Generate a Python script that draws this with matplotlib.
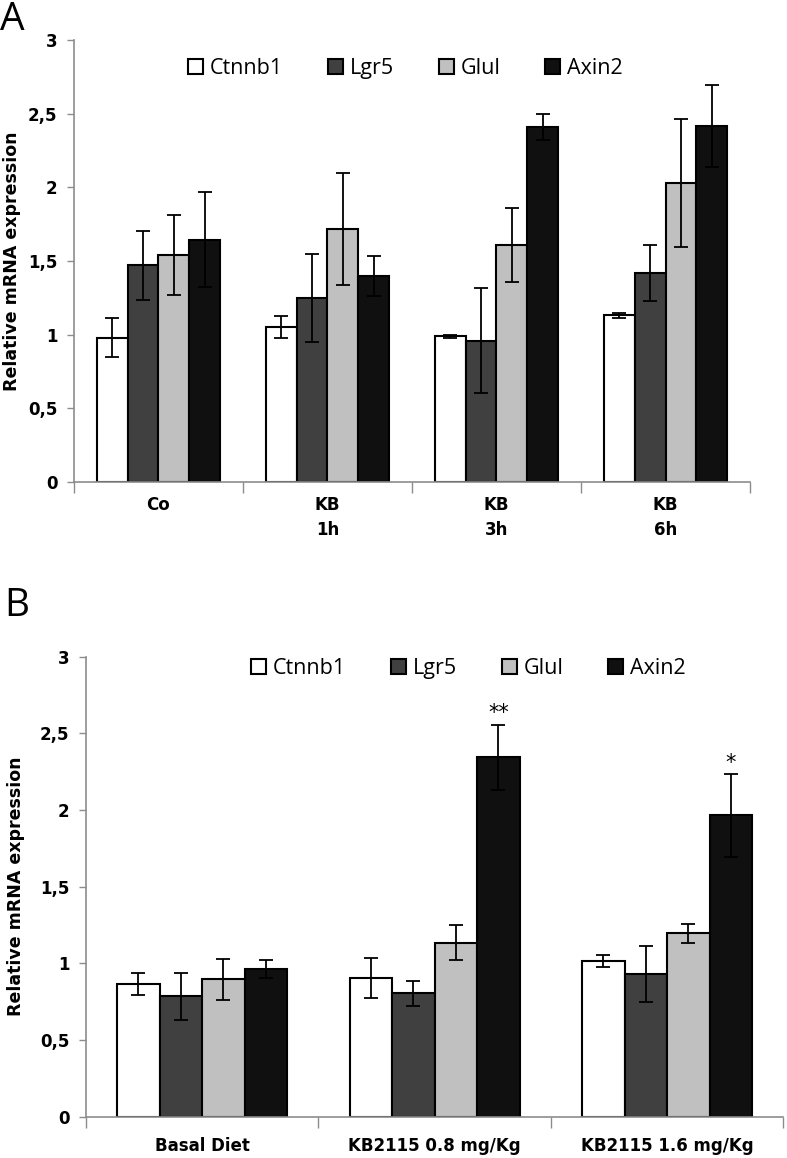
import matplotlib
matplotlib.use("Agg")
import matplotlib.pyplot as plt
import numpy as np
from matplotlib.patches import Patch

# panel A
groups_a = ["Co", "KB\n1h", "KB\n3h", "KB\n6h"]
ctnnb1_a = [0.98, 1.05, 0.99, 1.13]
ctnnb1_a_err = [0.13, 0.075, 0.01, 0.02]
lgr5_a = [1.47, 1.25, 0.96, 1.42]
lgr5_a_err = [0.235, 0.30, 0.355, 0.19]
glul_a = [1.54, 1.72, 1.61, 2.03]
glul_a_err = [0.27, 0.38, 0.25, 0.435]
axin2_a = [1.645, 1.40, 2.41, 2.415]
axin2_a_err = [0.32, 0.135, 0.09, 0.28]

# panel B
groups_b = ["Basal Diet", "KB2115 0.8 mg/Kg", "KB2115 1.6 mg/Kg"]
ctnnb1_b = [0.865, 0.905, 1.015]
ctnnb1_b_err = [0.07, 0.13, 0.04]
lgr5_b = [0.785, 0.805, 0.93]
lgr5_b_err = [0.155, 0.08, 0.185]
glul_b = [0.895, 1.135, 1.196]
glul_b_err = [0.135, 0.112, 0.063]
axin2_b = [0.965, 2.345, 1.965]
axin2_b_err = [0.06, 0.212, 0.27]
stars_b = ["", "**", "*"]

genes = ["Ctnnb1", "Lgr5", "Glul", "Axin2"]
colors = ["white", "#404040", "#c0c0c0", "#101010"]
yticks = [0, 0.5, 1, 1.5, 2, 2.5, 3]
ytick_labels = ["0", "0,5", "1", "1,5", "2", "2,5", "3"]

SPINE = "#8c8c8c"


def draw_panel(ax, groups, series, errs, xlabel_pad):
    n = len(groups)
    x = np.arange(n)
    w = 0.183
    for i, (vals, err) in enumerate(zip(series, errs)):
        xs = x + (i - 1.5) * w
        ax.bar(xs, vals, width=w, color=colors[i], edgecolor="black",
               linewidth=1.5, zorder=2)
        ax.errorbar(xs, vals, yerr=err, fmt="none", ecolor="black",
                    elinewidth=1.3, capsize=5, capthick=1.3, zorder=3)
    ax.set_xlim(-0.5, n - 0.5)
    ax.set_ylim(0, 3)
    ax.set_yticks(yticks)
    ax.set_yticklabels(ytick_labels, fontsize=12, fontweight="bold")
    ax.set_xticks(x)
    ax.set_xticklabels(groups, fontsize=12, fontweight="bold", linespacing=1.5)
    ax.set_xticks(np.arange(n + 1) - 0.5, minor=True)
    ax.tick_params(axis="x", which="major", length=0, pad=xlabel_pad)
    ax.tick_params(axis="x", which="minor", length=8, color=SPINE, width=1)
    ax.tick_params(axis="y", length=5, color=SPINE, width=1, pad=7)
    for s in ["top", "right"]:
        ax.spines[s].set_visible(False)
    for s in ["left", "bottom"]:
        ax.spines[s].set_color(SPINE)
        ax.spines[s].set_linewidth(1.2)
    ax.set_ylabel("Relative mRNA expression", fontsize=12.5, fontweight="bold")


fig = plt.figure(figsize=(7.87, 11.58), dpi=100)

ax_a = fig.add_axes([0.094, 0.5838, 0.859, 0.3817])
draw_panel(ax_a, groups_a, [ctnnb1_a, lgr5_a, glul_a, axin2_a],
           [ctnnb1_a_err, lgr5_a_err, glul_a_err, axin2_a_err], 10)
ax_a.yaxis.set_label_coords(-0.079, 0.5)

ax_b = fig.add_axes([0.1093, 0.0357, 0.886, 0.3972])
draw_panel(ax_b, groups_b, [ctnnb1_b, lgr5_b, glul_b, axin2_b],
           [ctnnb1_b_err, lgr5_b_err, glul_b_err, axin2_b_err], 15)
ax_b.yaxis.set_label_coords(-0.088, 0.5)

# significance stars
for i, s in enumerate(stars_b):
    if s:
        xs = i + 1.5 * 0.183
        ax_b.annotate(s, (xs, axin2_b[i] + axin2_b_err[i]), xytext=(0, 1),
                      textcoords="offset points", ha="center", va="bottom",
                      fontsize=15)

handles = [Patch(facecolor=c, edgecolor="black", linewidth=1.5) for c in colors]
for anchor in [(0.515, 0.941), (0.595, 0.423)]:
    fig.legend(handles, genes, loc="center", bbox_to_anchor=anchor, ncol=4,
               frameon=False, handlelength=0.7, handleheight=0.7,
               handletextpad=0.3, columnspacing=2.1,
               prop={"family": "Open Sans", "size": 15.5})

fig.text(0.0, 0.999, "A", fontsize=28, va="top", ha="left", family="Open Sans")
fig.text(0.006, 0.493, "B", fontsize=28, va="top", ha="left", family="Open Sans")

fig.savefig("out.png", dpi=100)
